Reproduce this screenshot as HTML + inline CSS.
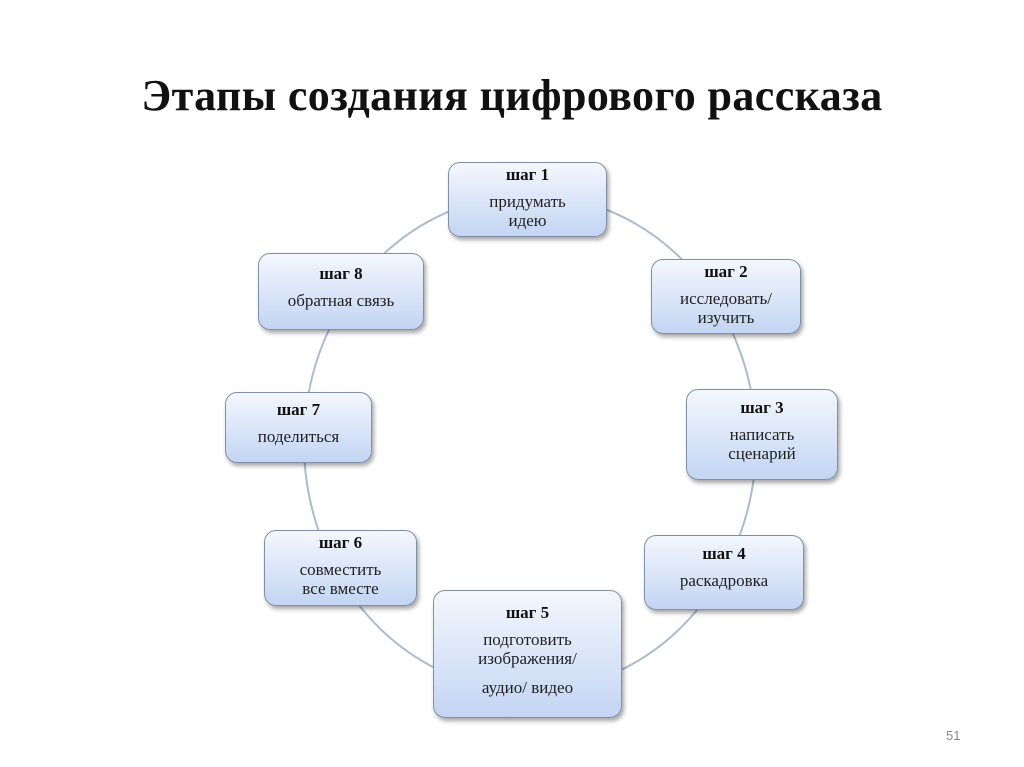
<!DOCTYPE html>
<html><head><meta charset="utf-8"><style>
body{margin:0;width:1024px;height:767px;background:#fff;position:relative;overflow:hidden;font-family:"Liberation Serif","DejaVu Serif",serif}
h1{position:absolute;top:70px;left:0;width:1024px;text-align:center;margin:0;font-size:44px;letter-spacing:0.4px;font-weight:bold;color:#111}
.b{position:absolute;box-sizing:border-box;border:1.5px solid #7f8fa8;border-radius:12px;background:linear-gradient(#f4f7fd,#c3d5f3);box-shadow:2px 3px 4px rgba(0,0,0,.35);text-align:center;font-size:17px;color:#222;line-height:19px}
.b b{display:block;font-size:17px;margin-top:2px;margin-bottom:8px;color:#111}
.pn{position:absolute;left:946px;top:728px;font-size:13px;color:#888;font-family:"Liberation Sans",sans-serif}
</style></head><body>
<h1>Этапы создания цифрового рассказа</h1>
<svg width="1024" height="767" style="position:absolute;left:0;top:0">
<ellipse cx="530" cy="443" rx="226" ry="248" fill="none" stroke="#a9bccf" stroke-width="2"/>
</svg>
<div class="b" style="left:448px;top:162px;width:159px;height:75px"><b>шаг 1</b>придумать<br>идею</div>
<div class="b" style="left:651px;top:259px;width:150px;height:75px"><b>шаг 2</b>исследовать/<br>изучить</div>
<div class="b" style="left:686px;top:389px;width:152px;height:91px;padding-top:6px"><b>шаг 3</b>написать<br>сценарий</div>
<div class="b" style="left:644px;top:535px;width:160px;height:75px;padding-top:6px"><b>шаг 4</b>раскадровка</div>
<div class="b" style="left:433px;top:590px;width:189px;height:128px;padding-top:10px"><b>шаг 5</b>подготовить<br>изображения/<br><div style="margin-top:10px">аудио/ видео</div></div>
<div class="b" style="left:264px;top:530px;width:153px;height:76px"><b>шаг 6</b>совместить<br>все вместе</div>
<div class="b" style="left:225px;top:392px;width:147px;height:71px;padding-top:5px"><b>шаг 7</b>поделиться</div>
<div class="b" style="left:258px;top:253px;width:166px;height:77px;padding-top:8px"><b>шаг 8</b>обратная связь</div>
<div class="pn">51</div>
</body></html>
